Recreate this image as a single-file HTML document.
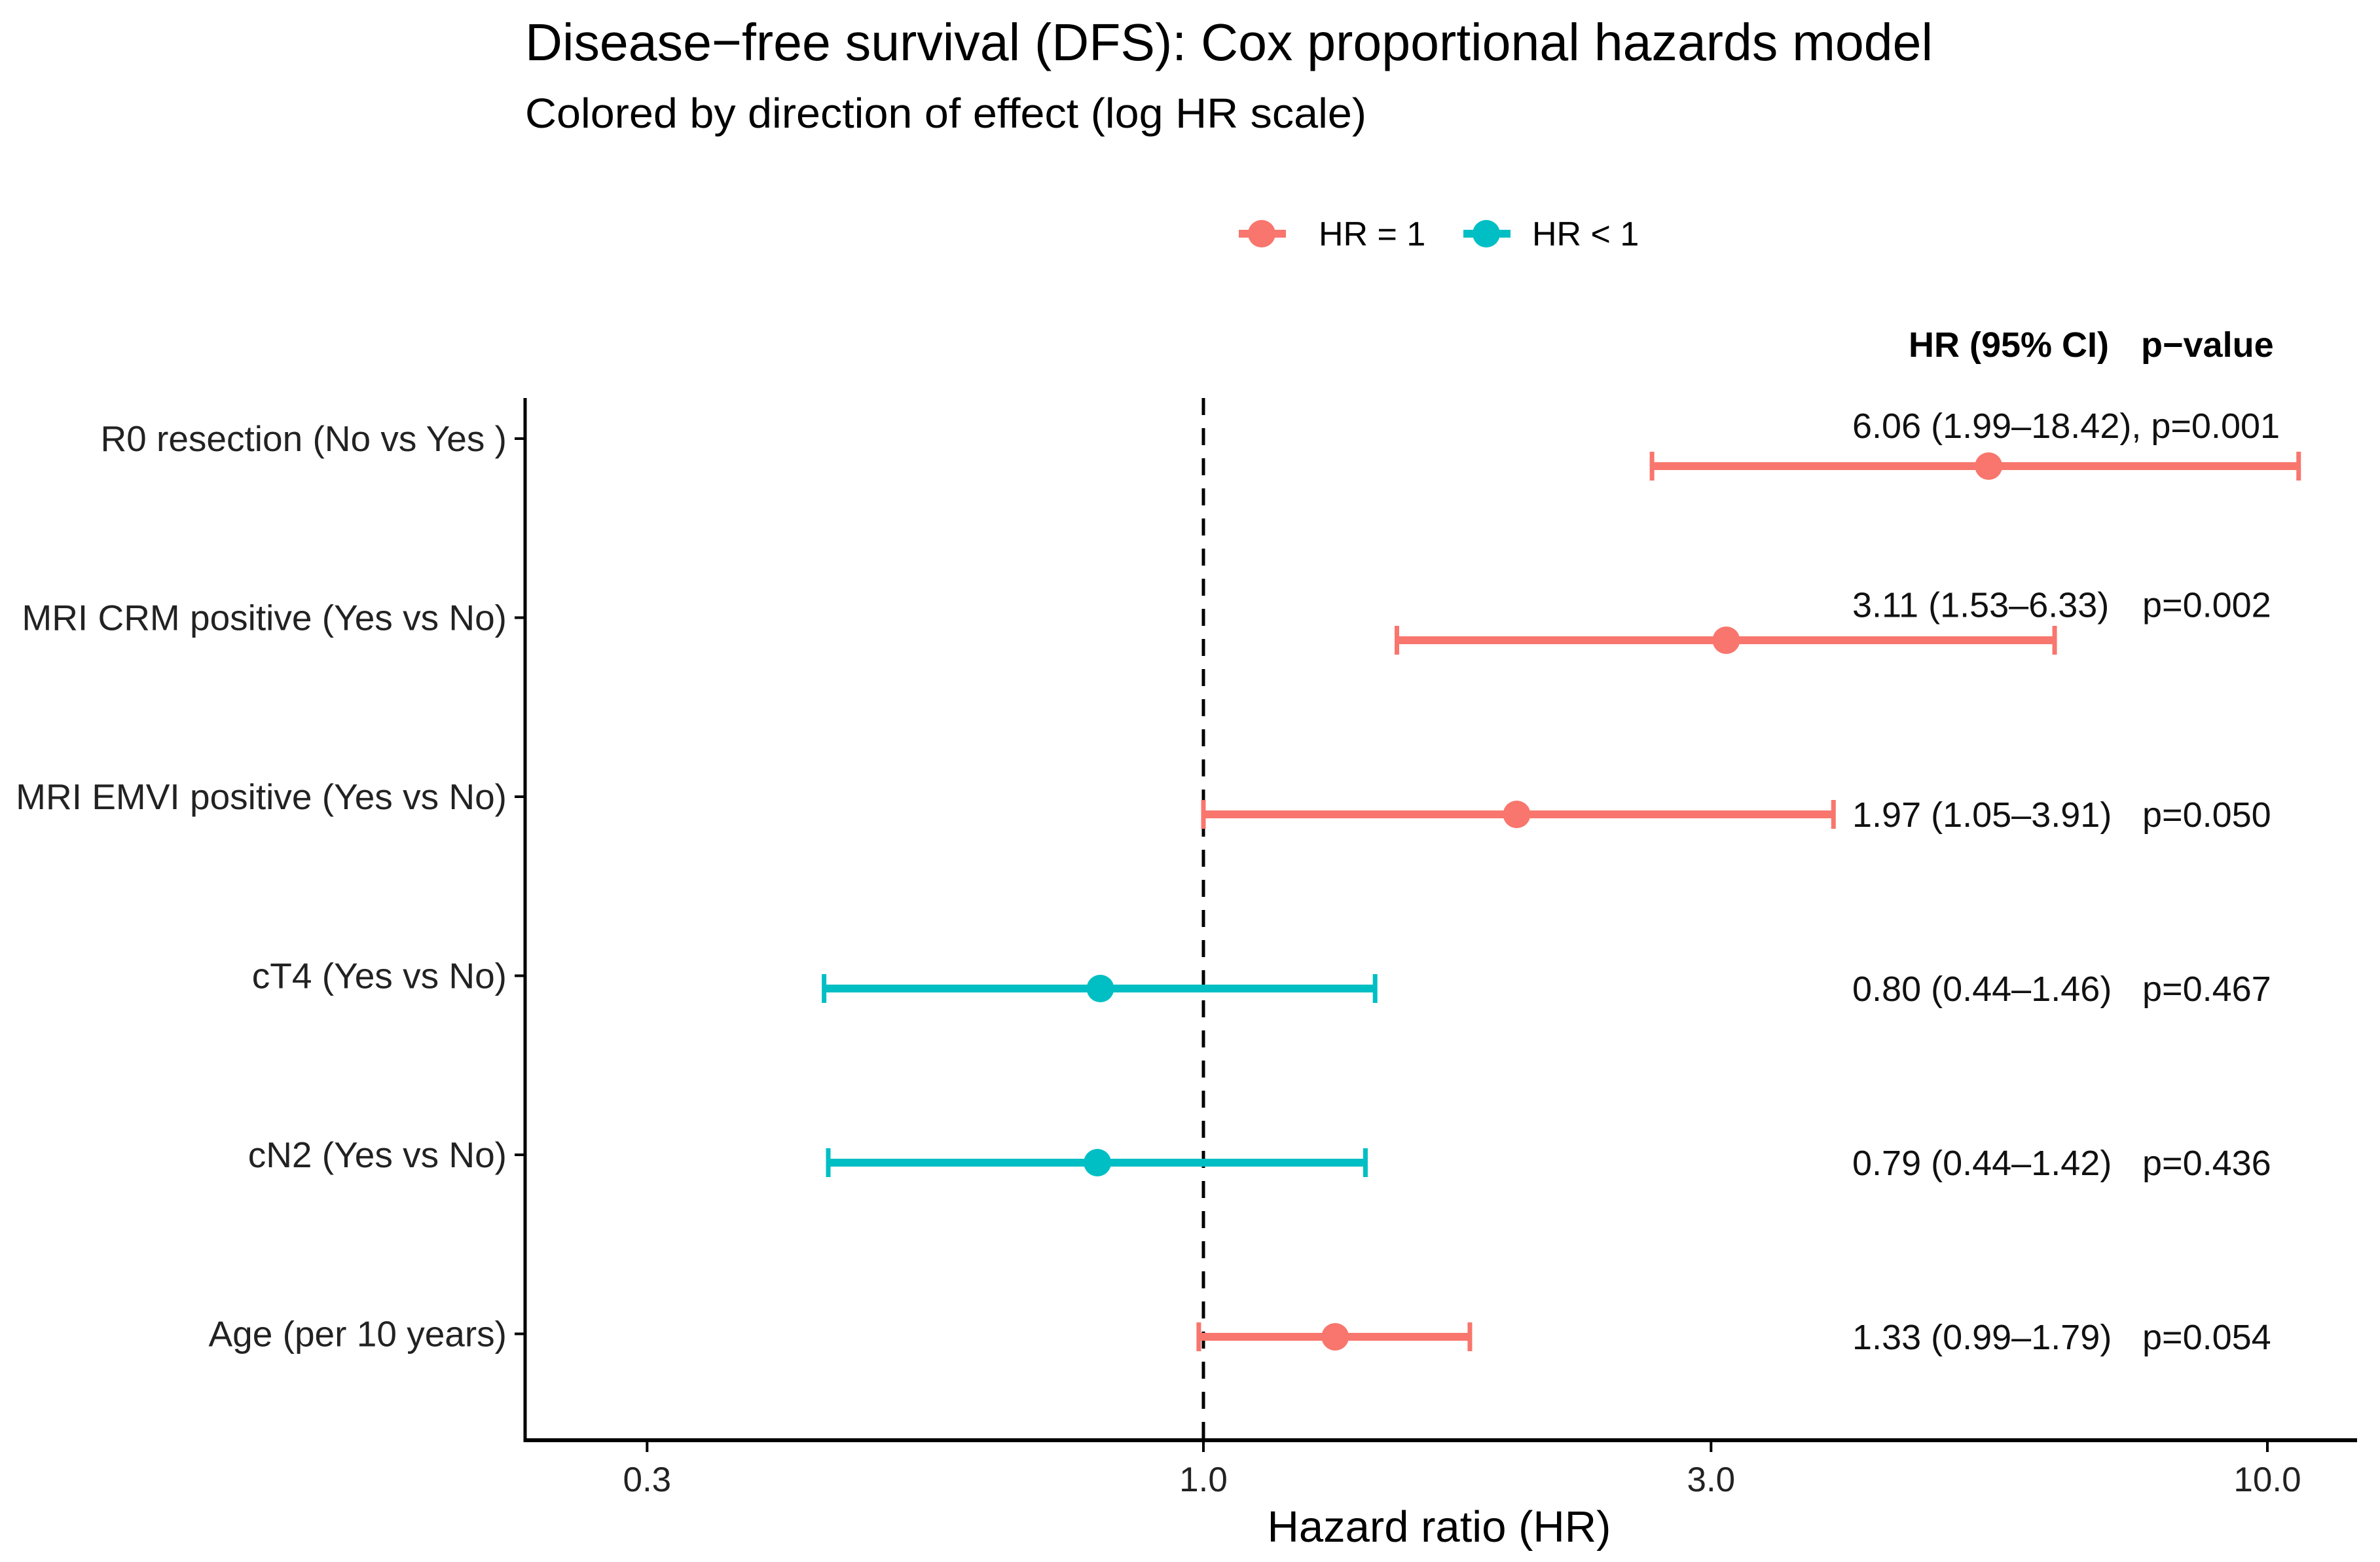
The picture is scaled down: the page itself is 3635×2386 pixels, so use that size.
<!DOCTYPE html>
<html><head><meta charset="utf-8"><style>
html,body{margin:0;padding:0;background:#fff;}
svg{display:block;font-family:"Liberation Sans",Arial,sans-serif;}
</style></head><body>
<svg id="chart" width="3635" height="2386" viewBox="0 0 3635 2386" xmlns="http://www.w3.org/2000/svg">
<text x="802" y="92" font-size="80" textLength="2150" lengthAdjust="spacingAndGlyphs">Disease−free survival (DFS): Cox proportional hazards model</text>
<text x="802" y="195" font-size="64" textLength="1285" lengthAdjust="spacingAndGlyphs">Colored by direction of effect (log HR scale)</text>
<g>
<g>
<line x1="1892" y1="357" x2="1964" y2="357" stroke="#F8766D" stroke-width="12"/>
<circle cx="1927" cy="357" r="21" fill="#F8766D"/>
<text x="2014" y="375" font-size="52">HR = 1</text>
</g>
<g>
<line x1="2235" y1="357" x2="2307" y2="357" stroke="#00BFC4" stroke-width="12"/>
<circle cx="2270" cy="357" r="21" fill="#00BFC4"/>
<text x="2340" y="375" font-size="52">HR &lt; 1</text>
</g>
</g>
<text x="2915" y="545" font-size="54" font-weight="bold">HR (95% CI)</text>
<text x="3270" y="545" font-size="54" font-weight="bold">p−value</text>
<g id="plot"></g>
</svg>
<script>
const labels = ["R0 resection (No vs Yes )","MRI CRM positive (Yes vs No)","MRI EMVI positive (Yes vs No)","cT4 (Yes vs No)","cN2 (Yes vs No)","Age (per 10 years)"];
const hr = [5.47,3.10,1.97,0.80,0.795,1.33];
const lower = [2.64,1.52,1.0,0.44,0.444,0.99];
const upper = [10.7,6.31,3.91,1.45,1.42,1.78];
const direction = ["up","up","up","down","down","up"];
const ciText = ["6.06 (1.99–18.42), p=0.001","3.11 (1.53–6.33)","1.97 (1.05–3.91)","0.80 (0.44–1.46)","0.79 (0.44–1.42)","1.33 (0.99–1.79)"];
const pText = ["","p=0.002","p=0.050","p=0.467","p=0.436","p=0.054"];
const xTicks = [0.3,1.0,3.0,10.0];
const xTickLabels = ["0.3","1.0","3.0","10.0"];

const NS="http://www.w3.org/2000/svg";
const g=document.getElementById('plot');
const X0=802,X1=3600,Ytop=608,Ybot=2200;
function x(v){return 1838+Math.log10(v)*1625;}
function yPt(i){return 712+i*266;}
function yTick(i){return 670+i*273.5;}
function mk(tag,attrs,parent){const e=document.createElementNS(NS,tag);for(const k in attrs)e.setAttribute(k,attrs[k]);(parent||g).appendChild(e);return e;}
const cols={up:"#F8766D",down:"#00BFC4"};

const ax=mk('line',{x1:X0,y1:Ytop,x2:X0,y2:Ybot+3,stroke:"#000","stroke-width":5});


const axx=mk('line',{x1:X0-2,y1:Ybot,x2:X1,y2:Ybot,stroke:"#000","stroke-width":6});


const ref=mk('line',{x1:x(1),y1:Ytop,x2:x(1),y2:Ybot,stroke:"#000","stroke-width":5,"stroke-dasharray":"26 20"});



xTicks.forEach((t,i)=>{
  const tk=mk('line',{x1:x(t),y1:Ybot,x2:x(t),y2:Ybot+18,stroke:"#000","stroke-width":4});
  
  
  const tl=mk('text',{x:x(t),y:Ybot+78,"font-size":53,"text-anchor":"middle",fill:"#222"});
  tl.textContent=xTickLabels[i];
  
  
});
const xt=mk('text',{x:2198,y:2355,"font-size":67,"text-anchor":"middle"});
xt.textContent="Hazard ratio (HR)";



labels.forEach((lab,i)=>{
  const yt=yTick(i),yp=yPt(i),c=cols[direction[i]];
  const tk=mk('line',{x1:X0-16,y1:yt,x2:X0,y2:yt,stroke:"#000","stroke-width":4});
  
  
  const tl=mk('text',{x:X0-28,y:yt+19,"font-size":55,"text-anchor":"end",fill:"#222"});
  tl.textContent=lab;
  
  
  const ci=mk('line',{x1:x(lower[i]),y1:yp,x2:x(upper[i]),y2:yp,stroke:c,"stroke-width":12});
  
  
  [lower[i],upper[i]].forEach(v=>{
    const cap=mk('line',{x1:x(v),y1:yp-22,x2:x(v),y2:yp+22,stroke:c,"stroke-width":7});
    
    
  });
  const pt=mk('circle',{cx:x(hr[i]),cy:yp,r:21,fill:c});
  
  
  const ty=(i<2?yTick(i)-20:yp)+19;
  const ct=mk('text',{x:2829,y:ty,"font-size":54,fill:"#111"});
  ct.textContent=ciText[i];
  
  
  if(pText[i]){
    const pt2=mk('text',{x:3272,y:ty,"font-size":54,fill:"#111"});
    pt2.textContent=pText[i];
    
    
  }
});
</script>
</body></html>
